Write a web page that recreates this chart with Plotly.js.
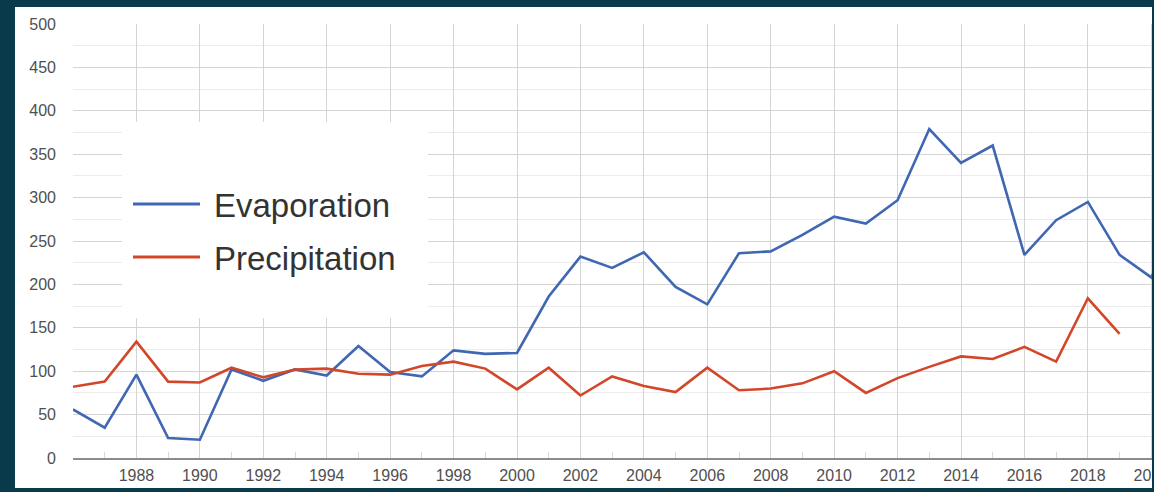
<!DOCTYPE html>
<html>
<head>
<meta charset="utf-8">
<script src="https://cdn.plot.ly/plotly-3.0.1.min.js"></script>
<style>
  html, body { margin: 0; padding: 0; background: #083a4c; width: 1154px; height: 492px; overflow: hidden; }
  #panel { position: absolute; left: 15px; top: 7px; width: 1137px; height: 481px; background: #ffffff; overflow: hidden; }
  #chart { position: absolute; left: 0; top: 0; width: 1178px; height: 481px; }
</style>
</head>
<body>
<div id="panel"><div id="chart"></div></div>
<script>
// Annual totals, 1986 onward
const evapYears = [1986, 1987, 1988, 1989, 1990, 1991, 1992, 1993, 1994, 1995,
                   1996, 1997, 1998, 1999, 2000, 2001, 2002, 2003, 2004, 2005,
                   2006, 2007, 2008, 2009, 2010, 2011, 2012, 2013, 2014, 2015,
                   2016, 2017, 2018, 2019, 2020, 2021];
const evaporation = [56, 35, 96, 23, 21, 102, 89, 102, 95, 129,
                     99, 94, 124, 120, 121, 186, 232, 219, 237, 197,
                     177, 236, 238, 257, 278, 270, 297, 379, 340, 360,
                     234, 274, 295, 234, 208, 290];

const precipYears = [1986, 1987, 1988, 1989, 1990, 1991, 1992, 1993, 1994, 1995,
                     1996, 1997, 1998, 1999, 2000, 2001, 2002, 2003, 2004, 2005,
                     2006, 2007, 2008, 2009, 2010, 2011, 2012, 2013, 2014, 2015,
                     2016, 2017, 2018, 2019];
const precipitation = [82, 88, 134, 88, 87, 104, 93, 102, 103, 97,
                       96, 106, 111, 103, 79, 104, 72, 94, 83, 76,
                       104, 78, 80, 86, 100, 75, 92, 105, 117, 114,
                       128, 111, 184, 143];

const seriesNames = ['Evaporation', 'Precipitation'];
const yearTicks = [1988, 1990, 1992, 1994, 1996, 1998, 2000, 2002, 2004, 2006,
                   2008, 2010, 2012, 2014, 2016, 2018, 2020];
const valueTicks = [0, 50, 100, 150, 200, 250, 300, 350, 400, 450, 500];

const BLUE = '#3f67b2';
const RED = '#d2462a';
const FONT = '"Liberation Sans", Arial, sans-serif';
const LABEL = '#4f4f4f';

const traces = [
  { x: evapYears, y: evaporation, name: seriesNames[0], type: 'scatter', mode: 'lines',
    line: { color: BLUE, width: 2.6 }, hoverinfo: 'skip' },
  { x: precipYears, y: precipitation, name: seriesNames[1], type: 'scatter', mode: 'lines',
    line: { color: RED, width: 2.6 }, hoverinfo: 'skip' }
];

// Plot area geometry in pixels (used for the in-plot key)
const plotW = 1110, plotH = 434;
const px = v => v / plotW;
const py = v => v / plotH;

const shapes = [
  // white key box
  { type: 'rect', xref: 'paper', yref: 'paper', layer: 'above',
    x0: px(49), x1: px(355), y0: py(140), y1: py(336),
    fillcolor: '#ffffff', line: { width: 0 } },
  // key swatches
  { type: 'line', xref: 'paper', yref: 'paper', layer: 'above',
    x0: px(60), x1: px(127), y0: py(254), y1: py(254), line: { color: BLUE, width: 3 } },
  { type: 'line', xref: 'paper', yref: 'paper', layer: 'above',
    x0: px(60), x1: px(127), y0: py(201), y1: py(201), line: { color: RED, width: 3 } }
];

const annotations = [
  { xref: 'paper', yref: 'paper', x: px(139), y: py(252), xanchor: 'left', yanchor: 'middle',
    text: seriesNames[0], showarrow: false, font: { family: FONT, size: 33, color: '#333333' } },
  { xref: 'paper', yref: 'paper', x: px(139), y: py(199), xanchor: 'left', yanchor: 'middle',
    text: seriesNames[1], showarrow: false, font: { family: FONT, size: 33, color: '#333333' } }
];

const layout = {
  width: 1178, height: 481,
  margin: { l: 58, r: 10, t: 17, b: 30, pad: 0 },
  paper_bgcolor: '#ffffff', plot_bgcolor: '#ffffff',
  showlegend: false,
  font: { family: FONT, size: 16, color: LABEL },
  xaxis: {
    range: [1986, 2021], fixedrange: true,
    tickmode: 'array', tickvals: yearTicks, ticktext: yearTicks.map(String),
    showgrid: true, gridcolor: '#d4d4d4', gridwidth: 1,
    zeroline: false, showline: true, linecolor: '#8c8c8c', linewidth: 2,
    ticks: '', ticklabelstandoff: 2,
    tickfont: { family: FONT, size: 16, color: LABEL },
    minor: { tick0: 1987, dtick: 2, ticks: 'inside', ticklen: 6, tickcolor: '#d8d8d8', tickwidth: 1, showgrid: false }
  },
  yaxis: {
    range: [0, 500], fixedrange: true,
    tickmode: 'array', tickvals: valueTicks, ticktext: valueTicks.map(String),
    showgrid: true, gridcolor: '#d4d4d4', gridwidth: 1,
    zeroline: false, showline: false, ticks: '', ticklabelstandoff: 16,
    tickfont: { family: FONT, size: 16, color: LABEL },
    minor: { dtick: 25, showgrid: true, gridcolor: '#ececec', gridwidth: 1 }
  },
  shapes: shapes,
  annotations: annotations
};

Plotly.newPlot('chart', traces, layout, { displayModeBar: false, staticPlot: true });
</script>
</body>
</html>
